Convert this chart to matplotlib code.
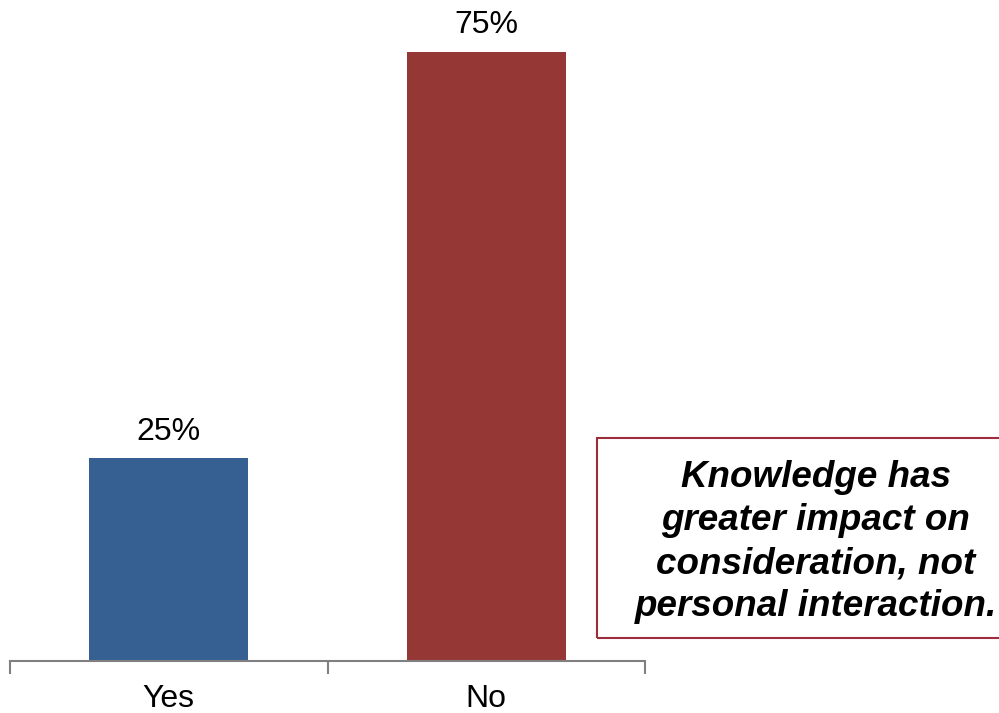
import matplotlib.pyplot as plt
from matplotlib.patches import Rectangle

categories = ['Yes', 'No']
values = [25, 75]
colors = ['#366092', '#953735']
note = 'Knowledge has\ngreater impact on\nconsideration, not\npersonal interaction.'

plt.rcParams['font.family'] = ['Liberation Sans', 'DejaVu Sans']

W, H = 999, 713
fig = plt.figure(figsize=(W / 100, H / 100), dpi=100)
ax = fig.add_axes([10 / W, (H - 661) / H, 635 / W, 650 / H])

x = list(range(len(categories)))
bars = ax.bar(x, values, width=0.5, color=colors)
for b, v in zip(bars, values):
    ax.annotate(f'{v}%', (b.get_x() + b.get_width() / 2, v),
                xytext=(0, 13.2), textcoords='offset points',
                ha='center', va='baseline', fontsize=23)

# category labels under the axis
for xi, c in zip(x, categories):
    ax.annotate(c, (xi, 0), xytext=(0, -33.2), textcoords='offset points',
                ha='center', va='baseline', fontsize=23, annotation_clip=False)

ax.set_xlim(-0.5, 1.5)
ax.set_ylim(0, 80)
ax.set_xticks([-0.5, 0.5, 1.5])
ax.set_xticklabels([])
ax.tick_params(axis='x', length=9, color='#808080', width=1.5)
ax.set_yticks([])
for s in ['top', 'right', 'left']:
    ax.spines[s].set_visible(False)
ax.spines['bottom'].set_color('#808080')
ax.spines['bottom'].set_linewidth(1.5)

# note box
fig.patches.append(Rectangle((597 / W, (H - 638) / H), 420 / W, 200 / H,
                             transform=fig.transFigure, fill=False,
                             edgecolor='#9b2d3d', linewidth=1.5))
fig.text(816 / W, (H - 542) / H, note, ha='center', va='center',
         fontsize=26.5, fontweight='bold', fontstyle='italic', linespacing=1.3)

fig.savefig('out.png', dpi=100)
